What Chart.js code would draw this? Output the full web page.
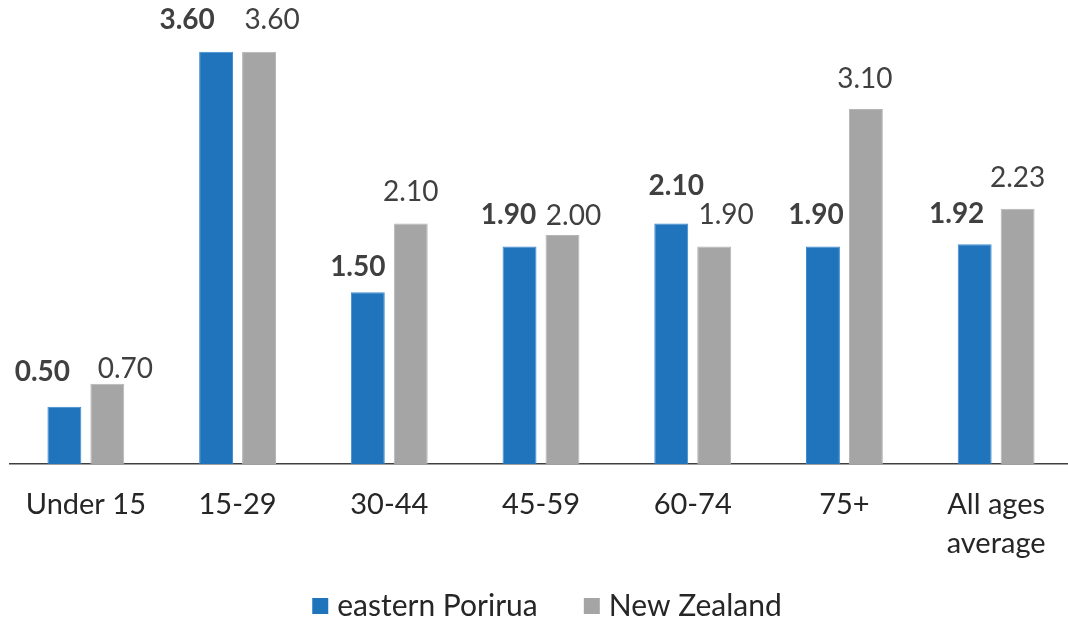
<!DOCTYPE html>
<html>
<head>
<meta charset="utf-8">
<script src="https://cdn.jsdelivr.net/npm/chart.js@4/dist/chart.umd.min.js"></script>
<style>
  html, body { margin: 0; padding: 0; background: #ffffff; overflow: hidden; width: 1068px; height: 622px; }
  canvas { display: block; }
</style>
</head>
<body>
<canvas id="c" width="1074" height="622"></canvas>
<script>
const categories = ['Under 15', '15-29', '30-44', '45-59', '60-74', '75+', ['All ages', 'average']];
const seriesNames = ['eastern Porirua', 'New Zealand'];
const poriruaValues = [0.50, 3.60, 1.50, 1.90, 2.10, 1.90, 1.92];
const nzValues = [0.70, 3.60, 2.10, 2.00, 1.90, 3.10, 2.23];

const FONT = 'Lato, Carlito, Calibri, "Liberation Sans", sans-serif';
const COLORS = ['#1F74BC', '#A5A5A5'];

// label placement nudges (px) relative to bar centre / bar top
const labelNudge = [
  { dx: [-22, -29, -10, -11, 5, -7, -18], dy: [-35, -32, -25, -31, -38, -31, -30] },
  { dx: [18, 13, 0, 11, 12, -1, 0], dy: [-15, -32, -32, -19, -31, -30, -31] }
];

const valueLabels = {
  id: 'valueLabels',
  afterDatasetsDraw(chart) {
    const ctx = chart.ctx;
    ctx.save();
    ctx.textAlign = 'center';
    ctx.textBaseline = 'middle';
    chart.data.datasets.forEach((ds, di) => {
      const meta = chart.getDatasetMeta(di);
      ctx.font = (di === 0 ? 'bold ' : '') + '28px ' + FONT;
      ctx.fillStyle = '#404040';
      meta.data.forEach((bar, i) => {
        const n = labelNudge[di];
        ctx.fillText(ds.data[i].toFixed(2), bar.x + n.dx[i], bar.y + n.dy[i]);
      });
    });
    ctx.restore();
  }
};

// legend swatches: 16px square, placed so the text sits ~9px to its right
function swatch(color) {
  const c = document.createElement('canvas');
  c.width = 40; c.height = 16;
  const g = c.getContext('2d');
  g.fillStyle = color;
  g.fillRect(23, 0, 16, 16);
  return c;
}
const swatches = COLORS.map(swatch);

const legendShift = {
  id: 'legendShift',
  afterLayout(chart) {
    chart.legend.left -= 2;
    chart.legend.right -= 2;
  }
};

new Chart(document.getElementById('c'), {
  type: 'bar',
  data: {
    labels: categories,
    datasets: [
      {
        label: seriesNames[0],
        data: poriruaValues,
        backgroundColor: COLORS[0],
        borderColor: '#3C8AD0',
        borderWidth: 1,
        categoryPercentage: 0.566,
        barPercentage: 0.79
      },
      {
        label: seriesNames[1],
        data: nzValues,
        backgroundColor: COLORS[1],
        borderColor: '#B5B5B5',
        borderWidth: 1,
        categoryPercentage: 0.566,
        barPercentage: 0.79
      }
    ]
  },
  options: {
    responsive: false,
    animation: false,
    devicePixelRatio: 1,
    layout: { padding: { left: 10, right: 2, top: 6, bottom: -9 } },
    scales: {
      x: {
        grid: { display: false, drawTicks: false },
        border: { display: true, color: '#404040', width: 1.5 },
        ticks: {
          color: '#262626',
          font: { family: FONT, size: 29, lineHeight: 1.35 },
          padding: 21,
          maxRotation: 0,
          autoSkip: false
        },
        afterFit(s) { s.height = 97; }
      },
      y: {
        display: false,
        min: 0,
        max: 4
      }
    },
    plugins: {
      legend: {
        position: 'bottom',
        labels: {
          color: '#262626',
          font: { family: FONT, size: 30, lineHeight: 1 },
          usePointStyle: true,
          pointStyleWidth: 26,
          boxHeight: 16,
          padding: 30,
          generateLabels(chart) {
            const items = Chart.defaults.plugins.legend.labels.generateLabels(chart);
            items.forEach((it, i) => { it.pointStyle = swatches[i]; });
            return items;
          }
        }
      },
      tooltip: { enabled: false }
    }
  },
  plugins: [valueLabels, legendShift]
});
</script>
</body>
</html>
